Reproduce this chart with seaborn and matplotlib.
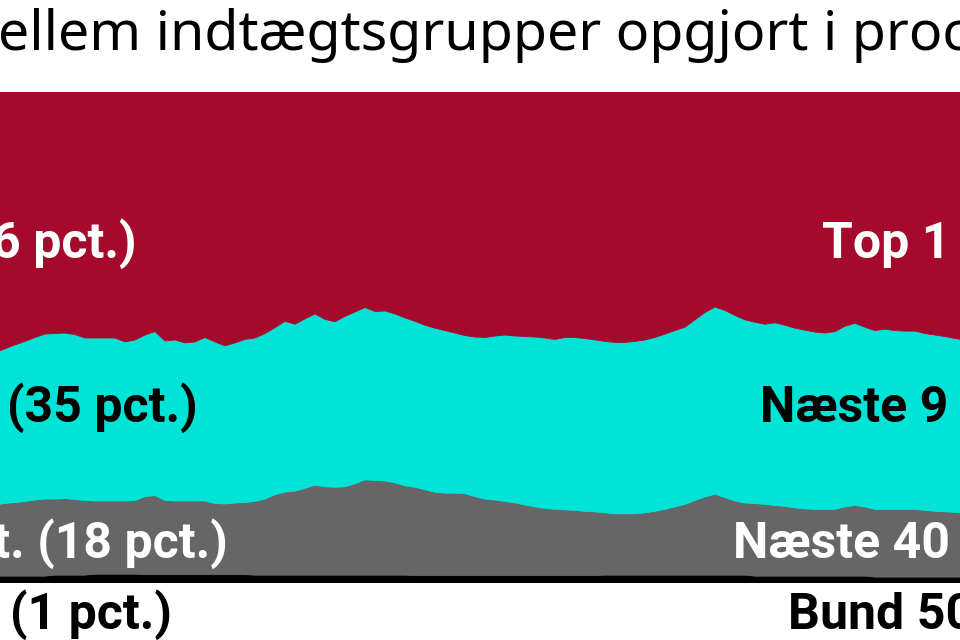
import numpy as np
import pandas as pd
import seaborn as sns
import matplotlib
matplotlib.use("Agg")
import matplotlib.pyplot as plt

## Andel (pct.) pr. periode
top1 = [53.1, 52.3, 51.5, 50.8, 50.0, 49.3, 49.2, 49.1, 49.4, 50.1,
        50.1, 50.1, 50.1, 50.9, 50.5, 49.5, 48.8, 50.7, 50.5, 51.1,
        50.9, 50.0, 50.9, 51.7, 51.1, 50.4, 50.1, 49.2, 48.0, 46.7,
        47.3, 46.2, 45.2, 46.3, 46.8, 45.7, 44.8, 43.9, 44.7, 44.6,
        45.2, 46.0, 46.7, 47.5, 48.1, 48.6, 49.1, 49.6, 49.9, 50.0,
        49.7, 49.5, 49.7, 49.8, 49.9, 50.1, 50.4, 50.0, 50.0, 50.2,
        50.5, 50.8, 51.0, 51.0, 50.8, 50.5, 50.0, 49.3, 48.6, 47.9,
        46.4, 44.9, 43.8, 44.5, 45.5, 46.4, 46.9, 47.3, 47.0, 47.5,
        48.1, 48.5, 48.9, 49.1, 48.8, 47.7, 47.1, 47.9, 48.6, 48.3,
        48.6, 48.7, 48.7, 49.2, 49.5, 49.8, 50.2, 50.5]
naeste9 = [31.0, 31.5, 32.1, 32.6, 33.1, 33.6, 33.7, 33.7, 33.6, 33.1,
           33.2, 33.2, 33.2, 32.4, 32.7, 32.9, 33.4, 32.5, 32.8, 32.2,
           32.4, 33.3, 32.9, 32.2, 32.6, 33.2, 33.3, 33.7, 34.0, 34.8,
           34.0, 34.5, 34.9, 34.1, 33.7, 34.7, 35.0, 35.1, 34.4, 34.6,
           34.4, 34.2, 33.8, 33.5, 33.4, 33.1, 32.6, 32.2, 32.5, 32.9,
           33.4, 33.9, 34.0, 34.3, 34.6, 34.7, 34.6, 35.1, 35.2, 35.2,
           35.0, 34.9, 34.9, 34.9, 35.1, 35.2, 35.4, 35.7, 35.9, 36.1,
           36.8, 37.6, 38.1, 38.1, 37.8, 37.3, 36.9, 36.7, 37.2, 36.9,
           36.6, 36.4, 36.1, 35.9, 36.2, 36.8, 37.1, 36.6, 36.4, 36.7,
           36.4, 36.3, 36.3, 36.0, 35.9, 35.7, 35.4, 35.2]
naeste40 = [14.5, 14.8, 15.0, 15.2, 15.5, 15.7, 15.5, 15.6, 15.4, 15.2,
            14.9, 14.9, 14.9, 14.9, 15.0, 15.9, 16.1, 15.1, 15.0, 15.0,
            15.0, 15.0, 14.5, 14.4, 14.6, 14.7, 15.0, 15.5, 16.4, 16.9,
            17.1, 17.7, 18.3, 18.0, 17.9, 18.0, 18.6, 19.4, 19.3, 19.2,
            18.8, 18.2, 18.0, 17.5, 17.0, 16.8, 16.8, 16.7, 16.1, 15.6,
            15.4, 15.1, 14.8, 14.4, 14.0, 13.7, 13.5, 13.4, 13.3, 13.1,
            13.0, 12.7, 12.5, 12.5, 12.5, 12.7, 13.0, 13.4, 13.9, 14.4,
            15.2, 15.9, 16.5, 15.8, 15.1, 14.7, 14.8, 14.6, 14.4, 14.2,
            13.9, 13.7, 13.6, 13.6, 13.6, 14.1, 14.4, 14.1, 13.8, 13.8,
            13.8, 13.8, 13.8, 13.6, 13.4, 13.3, 13.2, 13.1]
bund50 = [1.4, 1.4, 1.4, 1.4, 1.4, 1.4, 1.6, 1.6, 1.6, 1.6,
          1.8, 1.8, 1.8, 1.8, 1.8, 1.7, 1.7, 1.7, 1.7, 1.7,
          1.7, 1.7, 1.7, 1.7, 1.7, 1.7, 1.6, 1.6, 1.6, 1.6,
          1.6, 1.6, 1.6, 1.6, 1.6, 1.6, 1.6, 1.6, 1.6, 1.6,
          1.6, 1.6, 1.5, 1.5, 1.5, 1.5, 1.5, 1.5, 1.5, 1.5,
          1.5, 1.5, 1.5, 1.5, 1.5, 1.5, 1.5, 1.5, 1.5, 1.5,
          1.5, 1.6, 1.6, 1.6, 1.6, 1.6, 1.6, 1.6, 1.6, 1.6,
          1.6, 1.6, 1.6, 1.6, 1.6, 1.6, 1.4, 1.4, 1.4, 1.4,
          1.4, 1.4, 1.4, 1.4, 1.4, 1.4, 1.4, 1.4, 1.2, 1.2,
          1.2, 1.2, 1.2, 1.2, 1.2, 1.2, 1.2, 1.2]
periode = list(range(len(top1)))

titel = "ellem indtægtsgrupper opgjort i procent"
venstre_labels = ["6 pct.)", "(35 pct.)", "pct. (18 pct.)", "(1 pct.)"]
hoejre_labels = ["Top 1 pct.", "Næste 9 pct.", "Næste 40 pct.", "Bund 50 pct."]

farver = ["#000000", "#666666", "#00E4D8", "#A50A2C"]

sns.set_theme(style="white")
plt.rcParams['font.family'] = ['Noto Sans', 'DejaVu Sans']

W, H = 960, 640
fig = plt.figure(figsize=(9.6, 6.4), dpi=100)
ax = fig.add_axes([0, 1 - 583 / H, 1, (583 - 92) / H])
ax.stackplot(periode, bund50, naeste40, naeste9, top1,
             colors=farver, linewidth=0.6, edgecolor='face')
ax.set_xlim(0.5, 96.5)
ax.set_ylim(0, 100)
ax.axis('off')

def px(x, y):
    return x / W, 1 - y / H

## Titel (beskaaret i originalen)
fig.text(*px(-2, 50), titel, fontsize=40, color='black', ha='left', va='baseline')

## Labels
lbl = dict(fontsize=36, fontweight='bold', va='baseline', family=['Roboto', 'DejaVu Sans'])
tekstfarve = ['white', 'black', 'white', 'black']
baselines = [258, 422, 558, 629]
venstre_slut = [137, 198, 228, 172]
hoejre_start = [822, 760, 733, 788]
for i in range(4):
    fig.text(*px(venstre_slut[i], baselines[i]), venstre_labels[i],
             ha='right', color=tekstfarve[i], **lbl)
    fig.text(*px(hoejre_start[i], baselines[i]), hoejre_labels[i],
             ha='left', color=tekstfarve[i], **lbl)

plt.savefig('out.png', dpi=100)
